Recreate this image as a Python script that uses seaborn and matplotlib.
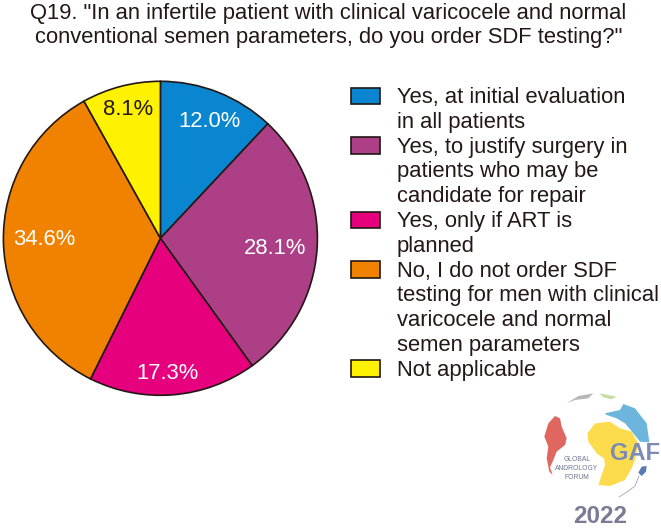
import matplotlib
matplotlib.use("Agg")
import matplotlib.pyplot as plt
from matplotlib.patches import Rectangle, Polygon
import seaborn as sns

sns.set_theme(style="white")
plt.rcParams['font.family'] = ['Liberation Sans', 'DejaVu Sans']

title_lines = ['Q19. "In an infertile patient with clinical varicocele and normal',
               'conventional semen parameters, do you order SDF testing?"']
categories = ["Yes, at initial evaluation\nin all patients",
              "Yes, to justify surgery in\npatients who may be\ncandidate for repair",
              "Yes, only if ART is\nplanned",
              "No, I do not order SDF\ntesting for men with clinical\nvaricocele and normal\nsemen parameters",
              "Not applicable"]
values = [12.0, 28.1, 17.3, 34.6, 8.1]
value_labels = ["12.0%", "28.1%", "17.3%", "34.6%", "8.1%"]
colors = sns.color_palette(["#0A85D0", "#AC3F85", "#E6007E", "#F08200", "#FFF200"])
label_colors = ["white", "white", "white", "white", "#231815"]

W, H = 661, 528
FS = 15.85
fig = plt.figure(figsize=(W/100, H/100), dpi=100)
bg = fig.add_axes([0, 0, 1, 1])
bg.set_xlim(0, W); bg.set_ylim(H, 0); bg.axis("off")

# pie
cx, cy, R = 160.4, 238.3, 157
pad = R + 2
ax = fig.add_axes([(cx-pad)/W, 1-(cy+pad)/H, 2*pad/W, 2*pad/H])
wedges, _ = ax.pie(values, colors=colors, startangle=90, counterclock=False, radius=R/pad,
                   wedgeprops=dict(edgecolor="#231815", linewidth=1.2))
ax.set_xlim(-1, 1); ax.set_ylim(-1, 1); ax.set_aspect("equal")

label_pos = [(209, 127), (275.5, 254), (168, 379), (44.5, 245), (128, 115)]
for (x, y), t, c in zip(label_pos, value_labels, label_colors):
    bg.text(x, y, t, color=c, fontsize=FS, ha="center", va="baseline", zorder=5)
bg.set_zorder(3); bg.patch.set_alpha(0)

# title
for y, t in zip([18.5, 43], title_lines):
    bg.text(328.5, y, t, fontsize=FS, color="#231815", ha="center", va="baseline")

# legend
line_h = 24.8
y = 103
for col, cat in zip(colors, categories):
    lines = cat.split("\n")
    bg.add_patch(Rectangle((350.5, y-15.5), 29.5, 16.5, facecolor=col, edgecolor="#231815", linewidth=1.2))
    for ln in lines:
        bg.text(397, y, ln, fontsize=FS, color="#231815", ha="left", va="baseline")
        y += line_h

# logo (outline points given in a 3x crop of the corner)
def P(pts, c, **k):
    bg.add_patch(Polygon([(500+a/3, 380+b/3) for a, b in pts], closed=True, facecolor=c, edgecolor="none", **k))
P([(165,108),(180,115),(185,140),(200,175),(195,195),(170,215),(160,240),(150,262),(158,285),(148,275),(140,235),(145,200),(133,170),(145,130)], "#E0675F")
P([(262,160),(285,130),(330,125),(360,145),(395,155),(415,190),(405,240),(395,265),(375,300),(330,318),(295,315),(315,255),(312,235),(290,220),(265,185)], "#FCDC4D")
P([(315,100),(360,90),(370,72),(405,85),(440,130),(448,187),(420,185),(400,160),(375,130),(350,115),(320,105)], "#6CB6DE")
P([(200,70),(235,48),(280,40),(265,55),(225,60)], "#B8B8B8")
P([(298,40),(350,50),(335,58),(310,52)], "#C5DDA8")
P([(415,278),(425,260),(440,258),(438,275),(425,288)], "#5A78B4")
bg.plot([639,635,627,619], [476,486,492,497], color="#9AA5C0", lw=0.6)
bg.text(577, 468.5, "GLOBAL\nANDROLOGY\nFORUM", fontsize=4.9, color="#6D7691", ha="center", va="center",
        multialignment="center", linespacing=1.35)
bg.text(635, 453.5, "GAF", fontsize=17, color="#7C8BB5", ha="center", va="center", fontweight="bold")
bg.text(600, 516.5, "2022", fontsize=17.5, color="#7A7C96", ha="center", va="center", fontweight="bold")

fig.savefig("out.png", dpi=100)
